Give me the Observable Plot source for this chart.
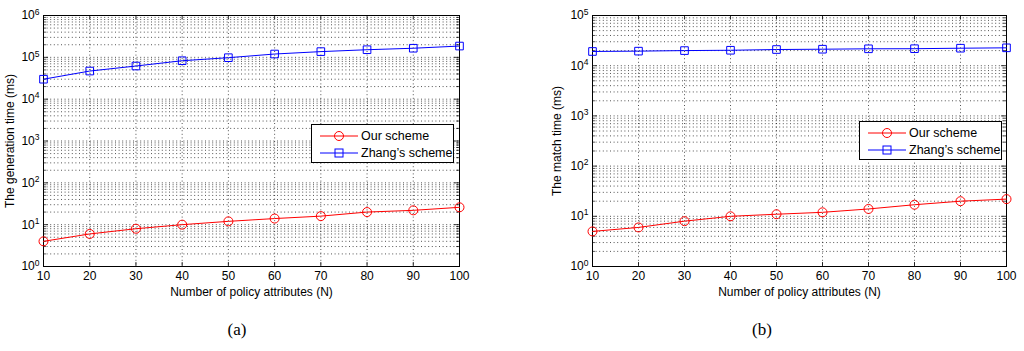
<!DOCTYPE html>
<html><head><meta charset="utf-8">
<script src="https://cdn.jsdelivr.net/npm/d3@7"></script>
<script src="https://cdn.jsdelivr.net/npm/@observablehq/plot@0.6"></script>
<style>
body{margin:0;background:#fff;}
#wrap{position:relative;width:1024px;height:351px;background:#fff;font-family:"Liberation Sans",Arial,sans-serif;overflow:hidden;}
.panel{position:absolute;top:0;}
.legend{position:absolute;background:#fff;border:1px solid #000;box-sizing:border-box;font-size:12.5px;color:#000;}
.legend .row{position:absolute;left:0;height:16px;}
.legend svg{position:absolute;left:0;top:0;}
.legend span{position:absolute;white-space:nowrap;line-height:16px;}
.cap{position:absolute;font-family:"Liberation Serif","Times New Roman",serif;font-size:17px;transform:translateX(-50%);}
</style>
</head><body>
<div id="wrap"></div>
<script>
const N = [10, 20, 30, 40, 50, 60, 70, 80, 90, 100];
const genOur = [4, 6, 8, 10, 12, 14, 16, 20, 22, 26];
const genZhang = [30000, 47000, 62000, 83000, 98000, 120000, 137000, 152000, 165000, 186000];
const matchOur = [5, 6, 8, 10, 11, 12, 14, 17, 20, 22];
const matchZhang = [19200, 19500, 20000, 20300, 21000, 21300, 21700, 21800, 22300, 22700];
const genTicks = [1, 10, 100, 1000, 10000, 100000, 1000000];
const matchTicks = [1, 10, 100, 1000, 10000, 100000];
const seriesNames = ["Our scheme", "Zhang’s scheme"];
const xLabel = "Number of policy attributes (N)";
const yLabels = ["The generation time (ms)", "The match time (ms)"];
const captions = ["(a)", "(b)"];

function minorOf(ticks){
  const out=[];
  for(let i=0;i<ticks.length-1;i++) for(let k=2;k<=9;k++) out.push(ticks[i]*k);
  return out;
}

function panel({our, zhang, ticks, ylabel, width, marginLeft, marginRight, yLabelOffset}){
  const rows = N.map((n,i)=>({n, our: our[i], zhang: zhang[i]}));
  const minor = minorOf(ticks);
  const yMin = ticks[0], yMax = ticks[ticks.length-1];
  const dec = Math.log10(yMax/yMin);
  const grid = {stroke:"#000", strokeOpacity:0.85, strokeWidth:0.8, strokeDasharray:"1,2.6"};
  const svg = Plot.plot({
    width, height: 300,
    marginLeft, marginRight, marginTop: 15, marginBottom: 34,
    style:{fontFamily:"Liberation Sans, Arial, sans-serif", fontSize:"12px", color:"#000", background:"transparent"},
    x:{domain:[10,100], ticks:N, tickSize:0, tickPadding:5, label:xLabel, labelArrow:"none", labelAnchor:"center", labelOffset:29, tickFormat:d=>String(d)},
    y:{type:"log", domain:[yMin,yMax], ticks, tickSize:0, tickPadding:4, label:ylabel, labelArrow:"none", labelAnchor:"center", labelOffset:yLabelOffset, tickFormat:d=>String(Math.round(Math.log10(d)))},
    marks:[
      Plot.ruleY(minor, grid),
      Plot.ruleY(ticks.slice(1,-1), grid),
      Plot.ruleX(N.slice(1,-1), grid),
      Plot.ruleY(ticks, {x1:10, x2:10+90*0.012, stroke:"#000", strokeWidth:0.8}),
      Plot.ruleY(ticks, {x1:100-90*0.012, x2:100, stroke:"#000", strokeWidth:0.8}),
      Plot.ruleY(minor, {x1:10, x2:10+90*0.007, stroke:"#000", strokeWidth:0.7}),
      Plot.ruleY(minor, {x1:100-90*0.007, x2:100, stroke:"#000", strokeWidth:0.7}),
      Plot.ruleX(N, {y1:yMin, y2:yMin*Math.pow(10, dec*0.016), stroke:"#000", strokeWidth:0.8}),
      Plot.ruleX(N, {y1:yMax/Math.pow(10, dec*0.016), y2:yMax, stroke:"#000", strokeWidth:0.8}),
      Plot.frame({stroke:"#000", strokeWidth:1}),
      Plot.line(rows, {x:"n", y:"our", stroke:"#ff0000", strokeWidth:1}),
      Plot.dot(rows, {x:"n", y:"our", stroke:"#ff0000", fill:"none", r:4.5, strokeWidth:1}),
      Plot.line(rows, {x:"n", y:"zhang", stroke:"#0000ff", strokeWidth:1}),
      Plot.dot(rows, {x:"n", y:"zhang", stroke:"#0000ff", fill:"none", symbol:"square", r:4.3, strokeWidth:1})
    ]
  });
  svg.querySelectorAll('[aria-label="y-axis tick label"] text').forEach(t=>{
    const e = t.textContent;
    t.textContent = "";
    const a = document.createElementNS("http://www.w3.org/2000/svg","tspan");
    a.textContent = "10";
    const b = document.createElementNS("http://www.w3.org/2000/svg","tspan");
    b.textContent = e; b.setAttribute("dy","-0.55em"); b.setAttribute("font-size","8.5px");
    t.appendChild(a); t.appendChild(b);
  });
  return svg;
}

function legend(left, top){
  const d = document.createElement("div");
  d.className = "legend";
  Object.assign(d.style, {left:left+"px", top:top+"px", width:"143px", height:"39px"});
  const colors = ["#ff0000","#0000ff"];
  seriesNames.forEach((name,i)=>{
    const row = document.createElement("div");
    row.className="row";
    row.style.top = (i===0?3:20)+"px";
    row.style.width="141px";
    const mk = i===0
      ? `<circle cx="27" cy="8" r="4.5" fill="none" stroke="${colors[i]}"/>`
      : `<rect x="23" y="4" width="8" height="8" fill="none" stroke="${colors[i]}"/>`;
    row.innerHTML = `<svg width="50" height="16"><line x1="8" x2="46" y1="8" y2="8" stroke="${colors[i]}" stroke-width="1"/>${mk}</svg><span style="left:49px;top:0">${name}</span>`;
    d.appendChild(row);
  });
  return d;
}

const wrap = document.getElementById("wrap");
const p1 = panel({our:genOur, zhang:genZhang, ticks:genTicks, ylabel:yLabels[0], width:480, marginLeft:43, marginRight:21, yLabelOffset:38});
p1.classList.add("panel"); p1.style.left="0px";
wrap.appendChild(p1);
const p2 = panel({our:matchOur, zhang:matchZhang, ticks:matchTicks, ylabel:yLabels[1], width:494, marginLeft:62, marginRight:18, yLabelOffset:40});
p2.classList.add("panel"); p2.style.left="530px";
wrap.appendChild(p2);
wrap.appendChild(legend(311,124));
wrap.appendChild(legend(859,121));
captions.forEach((c,i)=>{
  const el = document.createElement("div");
  el.className="cap"; el.textContent=c;
  el.style.left = (i===0?237:762)+"px"; el.style.top="320px";
  wrap.appendChild(el);
});
</script>
</body></html>
